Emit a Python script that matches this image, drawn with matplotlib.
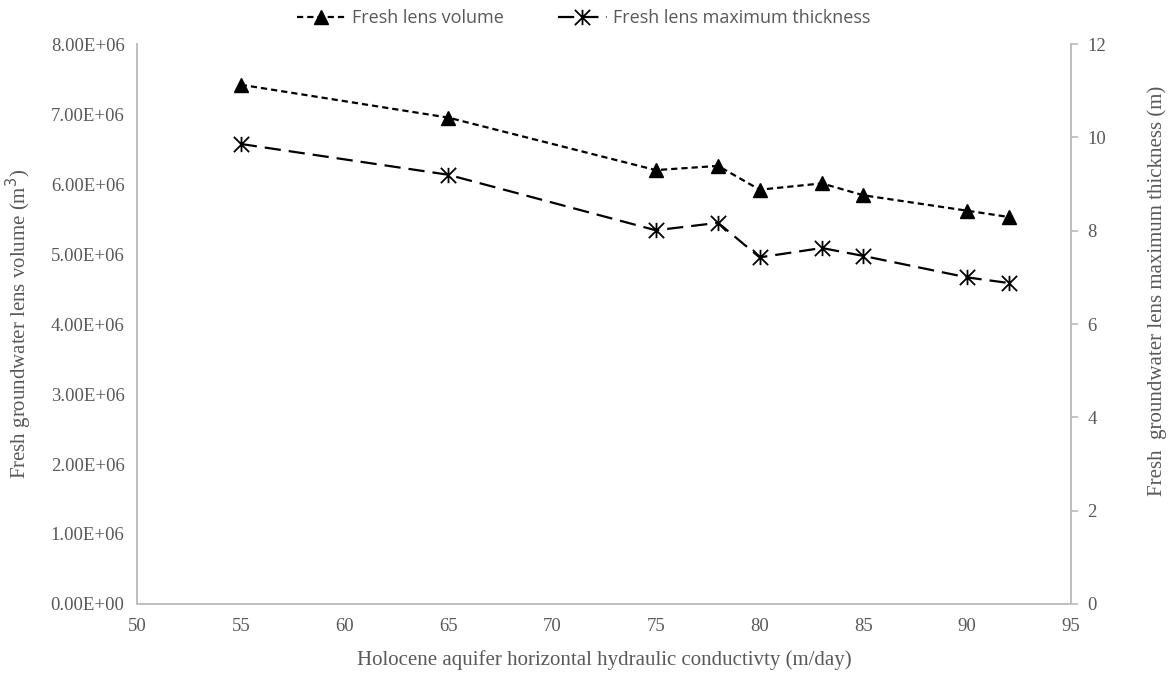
"""
帯水層透水係数と淡水レンズの関係を描くスクリプト
"""

import numpy as np
import matplotlib.pyplot as plt
from matplotlib.path import Path
from matplotlib.ticker import FuncFormatter, MultipleLocator

# 水平透水係数 (m/day)
conductivity = [55, 65, 75, 78, 80, 83, 85, 90, 92]
# 淡水レンズ体積 (m3)
lens_volume = [7.42e6, 6.95e6, 6.20e6, 6.26e6, 5.92e6, 6.01e6, 5.84e6, 5.62e6, 5.53e6]
# 淡水レンズ最大厚さ (m)
lens_thickness = [9.86, 9.20, 8.01, 8.17, 7.43, 7.63, 7.46, 7.00, 6.88]

TEXT_COLOR = '#595959'
AXIS_COLOR = '#bfbfbf'


def star_marker():
    """縦線付きのX型マーカー"""
    verts = [(-1, -1), (1, 1), (-1, 1), (1, -1), (0, -1), (0, 1)]
    codes = [Path.MOVETO, Path.LINETO] * 3
    return Path(verts, codes)


def plot_lens(out_path='out.png'):
    fig = plt.figure(figsize=(11.74, 6.79), dpi=100)
    ax = fig.add_axes([0.1167, 0.1105, 0.7955, 0.8245])
    ax2 = ax.twinx()

    serif = 'Liberation Serif'

    # 体積 (左軸)
    l1, = ax.plot(conductivity, lens_volume, color='black', lw=1.6,
                  linestyle=(0, (2.8, 1.8)), marker='^', markersize=10.5,
                  label='Fresh lens volume')
    # 最大厚さ (右軸)
    l2, = ax2.plot(conductivity, lens_thickness, color='black', lw=1.6,
                   linestyle=(0, (7.3, 3.6)), marker=star_marker(),
                   markersize=11, markeredgewidth=1.3, markerfacecolor='none',
                   label='Fresh lens maximum thickness')

    ax.set_xlim(50, 95)
    ax.set_ylim(0, 8e6)
    ax2.set_ylim(0, 12)
    ax.xaxis.set_major_locator(MultipleLocator(5))
    ax.yaxis.set_major_locator(MultipleLocator(1e6))
    ax2.yaxis.set_major_locator(MultipleLocator(2))
    ax.yaxis.set_major_formatter(FuncFormatter(lambda v, p: f'{v:.2E}'))

    for a in (ax, ax2):
        a.spines['top'].set_visible(False)
        for side in ('left', 'right', 'bottom'):
            a.spines[side].set_color(AXIS_COLOR)
            a.spines[side].set_linewidth(1.3)

    ax.tick_params(axis='y', length=0, labelsize=13.5, labelcolor=TEXT_COLOR, pad=9)
    ax.tick_params(axis='x', length=0, labelsize=13.5, labelcolor=TEXT_COLOR, pad=10)
    ax2.tick_params(axis='y', length=5, width=1.3, color=AXIS_COLOR,
                    labelsize=13.5, labelcolor=TEXT_COLOR, pad=7)
    for lab in ax.get_xticklabels() + ax.get_yticklabels() + ax2.get_yticklabels():
        lab.set_fontfamily(serif)

    ax.set_xlabel('Holocene aquifer horizontal hydraulic conductivty (m/day)',
                  fontsize=15, color=TEXT_COLOR, family=serif, labelpad=11)
    ax.set_ylabel('Fresh groundwater lens volume (m$^3$)',
                  fontsize=15, color=TEXT_COLOR, family=serif, labelpad=12)
    ax2.set_ylabel('Fresh  groundwater lens maximum thickness (m)',
                   fontsize=15, color=TEXT_COLOR, family=serif)
    ax2.yaxis.set_label_coords(1.082, 0.56)

    leg = fig.legend(handles=[l1, l2], loc='upper center', ncol=2,
                     bbox_to_anchor=(0.497, 1.01), frameon=False,
                     prop={'family': 'Open Sans', 'size': 13},
                     handlelength=2.7, columnspacing=3.0, handletextpad=0.35)
    for t in leg.get_texts():
        t.set_color(TEXT_COLOR)

    fig.savefig(out_path, dpi=100)
    print(f"グラフを保存しました: {out_path}")


def main():
    plot_lens('out.png')


if __name__ == '__main__':
    main()
